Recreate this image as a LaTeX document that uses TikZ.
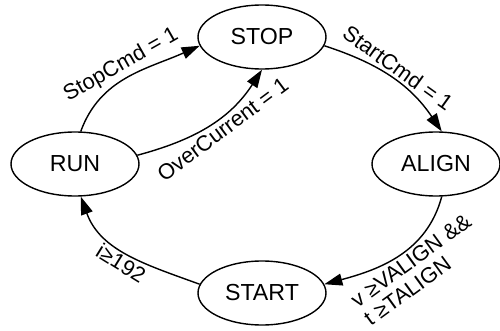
\documentclass[tikz,border=0pt]{standalone}
\usepackage{fontspec}
\setmainfont{Liberation Sans}
\usetikzlibrary{arrows.meta, shapes.geometric}

\begin{document}
\begin{tikzpicture}[>={Triangle[length=4.5mm, width=3mm]}, line width=1pt,
    stnode/.style={ellipse, draw, minimum width=3.2cm, minimum height=1.6cm, inner sep=0pt, font=\fontsize{16.5}{19}\selectfont},
    lbl/.style={font=\fontsize{15.5}{16}\selectfont, sloped, midway, inner sep=2pt}]
    \useasboundingbox (0,0) rectangle (12.5,8.25);

    % States
    \node[stnode] (stop) at (6.55,7.325) {STOP};
    \node[stnode] (align) at (10.9,4.15) {ALIGN};
    \node[stnode] (start) at (6.55,0.925) {START};
    \node[stnode] (run) at (1.875,4.15) {RUN};

    % Transitions
    \draw[->] (run.80) to[out=70, in=204] node[lbl, above] {StopCmd = 1} (stop.188);
    \draw[->] (run.8) to[out=15, in=237] node[lbl, below, pos=0.56] {OverCurrent = 1} (stop.south);
    \draw[->] (stop.-8) to[out=-18, in=124] node[lbl, above] {StartCmd = 1} (align.80);
    \draw[->] (align.-80) to[out=-105, in=15] node[lbl, below, align=left, pos=0.45] {v ≥VALIGN \&\&\\t ≥TALIGN} (start.8);
    \draw[->] (start.172) to[out=160, in=-70] node[lbl, below] {i≥192} (run.-80);
\end{tikzpicture}
\end{document}
